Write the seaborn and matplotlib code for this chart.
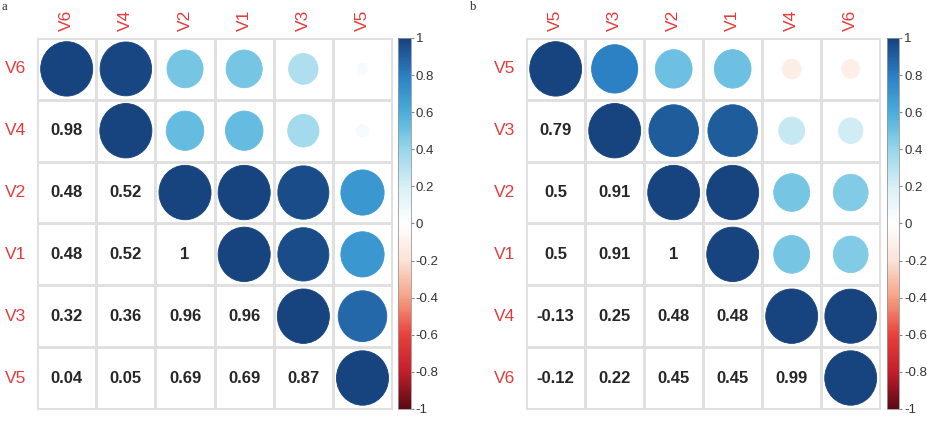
import matplotlib
matplotlib.use("Agg")
import matplotlib.pyplot as plt
from matplotlib.colors import LinearSegmentedColormap, ListedColormap, Normalize
from matplotlib.cm import ScalarMappable
from matplotlib.patches import Ellipse
import seaborn as sns
import numpy as np
import pandas as pd

# variable order of each panel (after hierarchical reordering)
vars_a = ["V6", "V4", "V2", "V1", "V3", "V5"]
vars_b = ["V5", "V3", "V2", "V1", "V4", "V6"]

# lower triangles of the correlation matrices, row by row
lower_a = [
    [1],
    [0.98, 1],
    [0.48, 0.52, 1],
    [0.48, 0.52, 1, 1],
    [0.32, 0.36, 0.96, 0.96, 1],
    [0.04, 0.05, 0.69, 0.69, 0.87, 1],
]
lower_b = [
    [1],
    [0.79, 1],
    [0.5, 0.91, 1],
    [0.5, 0.91, 1, 1],
    [-0.13, 0.25, 0.48, 0.48, 1],
    [-0.12, 0.22, 0.45, 0.45, 0.99, 1],
]

cbar_ticks = [-1, -0.8, -0.6, -0.4, -0.2, 0, 0.2, 0.4, 0.6, 0.8, 1]

palette = ["#5c0a16", "#c41f2c", "#e8423b", "#f4a283", "#fbe2d8", "#ffffff",
           "#d8eff6", "#98d6ea", "#4aaedb", "#2c80c4", "#17437f"]
cmap = LinearSegmentedColormap.from_list("corr", palette, N=200)
norm = Normalize(-1, 1)


def full_matrix(names, lower):
    n = len(names)
    m = np.zeros((n, n))
    for i, row in enumerate(lower):
        for j, v in enumerate(row):
            m[i, j] = v
            m[j, i] = v
    return pd.DataFrame(m, index=names, columns=names)


def corr_panel(ax, cax, corr):
    n = len(corr)
    vals = corr.values
    labels = np.array([[f"{vals[i, j]:g}" if j < i else "" for j in range(n)]
                       for i in range(n)])
    sns.heatmap(corr, ax=ax, cmap=ListedColormap(["white"]), cbar=False,
                annot=labels, fmt="", linewidths=0.8, linecolor="#e0e0e0",
                annot_kws={"size": 12, "weight": "bold", "color": "#262626"})
    for i in range(n):
        for j in range(i, n):
            r = 0.44 * np.sqrt(abs(vals[i, j]))
            c = cmap(norm(vals[i, j]))
            ax.add_patch(Ellipse((j + 0.5, i + 0.5), 2 * r, 2 * r,
                                 facecolor=c, edgecolor=c, lw=0.6))
    for s in ax.spines.values():
        s.set_visible(True)
        s.set_color("#e0e0e0")
        s.set_linewidth(0.8)
    ax.xaxis.tick_top()
    ax.tick_params(axis="both", length=0, labelsize=12.5, labelcolor="#e23c3c")
    ax.tick_params(axis="x", pad=5)
    ax.tick_params(axis="y", pad=8)
    ax.set_xticklabels(corr.columns, rotation=90)
    ax.set_yticklabels(corr.index, rotation=0)
    ax.set_xlabel("")
    ax.set_ylabel("")

    cb = plt.colorbar(ScalarMappable(norm=norm, cmap=cmap), cax=cax,
                      ticks=cbar_ticks)
    cb.ax.set_yticklabels([f"{t:g}" for t in cbar_ticks])
    cb.ax.tick_params(length=2.5, width=0.8, color="#888888", labelsize=9.5,
                      labelcolor="#333333", pad=1)
    cb.outline.set_edgecolor("#999999")
    cb.outline.set_linewidth(0.6)


sns.set_style("white")
plt.rcParams["font.family"] = ["Liberation Sans", "DejaVu Sans"]

fig = plt.figure(figsize=(9.28, 4.22), dpi=100)
bottom, height = 0.031, 0.879
ax_a = fig.add_axes([0.040, bottom, 0.3825, height])
cax_a = fig.add_axes([0.4289, bottom, 0.014, height])
ax_b = fig.add_axes([0.567, bottom, 0.3815, height])
cax_b = fig.add_axes([0.9560, bottom, 0.013, height])

corr_panel(ax_a, cax_a, full_matrix(vars_a, lower_a))
corr_panel(ax_b, cax_b, full_matrix(vars_b, lower_b))

fig.text(0.002, 0.998, "a", fontsize=9, family="Liberation Serif", va="top")
fig.text(0.506, 0.998, "b", fontsize=9, family="Liberation Serif", va="top")

fig.savefig("out.png", dpi=100)
